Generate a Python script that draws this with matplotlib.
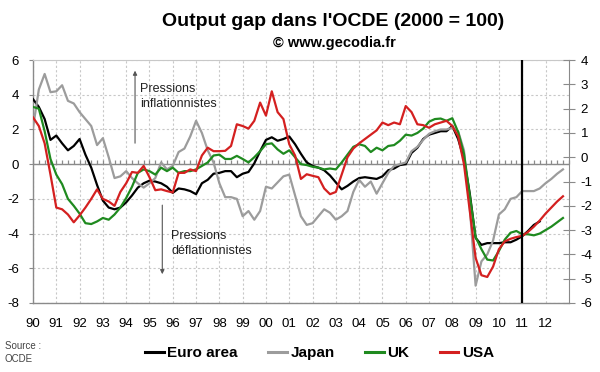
import numpy as np
import matplotlib
matplotlib.use("Agg")
import matplotlib.pyplot as plt
from matplotlib.lines import Line2D

plt.rcParams['font.family'] = ['Liberation Sans', 'DejaVu Sans']

# ---- data (quarterly, starting 1990 Q1) ----
start_year = 1990
euro = [3.75, 3.3, 2.6, 1.4,
        1.65, 1.2, 0.8, 1.05,
        1.45, 0.55, -0.2, -1.2,
        -2.1, -2.5, -2.6, -2.5,
        -2.2, -1.8, -1.35, -1.1,
        -0.95, -1.0, -1.1, -1.3,
        -1.65, -1.4, -1.45, -1.55,
        -1.73, -1.1, -0.9, -0.55,
        -0.5, -0.4, -0.4, -0.75,
        -0.55, -0.45, 0.05, 0.75,
        1.4, 1.55, 1.35, 1.45,
        1.6, 1.15, 0.6, 0.1,
        -0.1, -0.2, -0.35, -0.65,
        -1.05, -1.45, -1.25, -1.0,
        -0.8, -0.75, -0.8, -0.85,
        -0.7, -0.35, -0.25, -0.05,
        0.0, 0.65, 0.95, 1.45,
        1.7, 1.8, 1.9, 1.9,
        2.2, 1.45, 0.3, -1.7,
        -4.25, -4.65, -4.55, -4.55,
        -4.55, -4.5, -4.5, -4.35,
        -4.15, -3.85, -3.5, -3.3]
japan = [2.1, 4.3, 5.2, 4.15,
         4.2, 4.55, 3.65, 3.5,
         3.0, 2.6, 2.2, 1.1,
         1.5, 0.4, -0.8, -0.7,
         -0.4, -0.8, -1.1, -1.35,
         -1.1, -0.8, 0.1, -0.3,
         -0.1, 0.7, 0.9, 1.6,
         2.5, 1.8, 0.8, 0.1,
         -1.1, -1.9, -1.9, -2.0,
         -3.0, -2.7, -3.2, -2.7,
         -1.3, -1.4, -1.05, -0.7,
         -0.6, -1.8, -3.0, -3.5,
         -3.4, -3.0, -2.6, -2.8,
         -3.2, -3.0, -2.7, -1.6,
         -0.9, -1.3, -1.0, -1.7,
         -1.1, -0.5, -0.1, 0.0,
         0.1, 0.75, 1.0, 1.4,
         1.75, 1.9, 2.0, 2.0,
         2.1, 1.9, 0.8, -2.5,
         -7.0, -5.6, -5.2, -4.4,
         -2.9, -2.6, -2.0, -1.9,
         -1.55, -1.55, -1.55, -1.4,
         -1.1, -0.85, -0.55, -0.3]
uk = [3.3, 3.2, 1.9, 0.3,
      -0.6, -1.15, -2.0, -2.4,
      -2.85, -3.4, -3.45, -3.3,
      -3.1, -3.2, -2.9, -2.5,
      -1.95, -1.3, -0.5, -0.3,
      -0.4, -0.6, -0.2, -0.4,
      -0.2, -0.5, -0.4, -0.4,
      -0.3, -0.1, 0.1, 0.5,
      0.55, 0.3, 0.3, 0.48,
      0.3, 0.1, 0.4, 0.75,
      1.15, 1.2, 0.85, 0.6,
      0.8, 0.4, 0.0, -0.05,
      -0.15, -0.2, -0.3, -0.25,
      -0.3, 0.1, 0.55, 1.0,
      1.15, 1.05, 0.7, 0.95,
      0.8, 1.05, 1.1, 1.35,
      1.7, 1.65, 1.8, 2.05,
      2.45, 2.6, 2.63, 2.5,
      2.65, 1.85, 0.6, -1.8,
      -4.2, -4.9, -5.5, -5.55,
      -5.0, -4.35, -3.95, -3.85,
      -4.04, -4.04, -4.1, -4.0,
      -3.8, -3.6, -3.35, -3.1]
usa = [2.7, 2.2, 1.2, -0.6,
       -2.5, -2.6, -2.9, -3.35,
       -2.95, -2.5, -2.0, -1.45,
       -2.0, -2.15, -2.4, -1.6,
       -1.1, -0.45, -0.5, -0.1,
       -0.75, -1.5, -1.45, -1.55,
       -1.63, -0.5, -0.5, -0.3,
       -0.4, 0.5, 0.95, 0.75,
       0.75, 0.77, 1.05, 2.3,
       2.2, 2.05, 2.5, 3.55,
       2.8, 4.2, 3.0, 2.6,
       1.15, 0.5, -0.85, -0.58,
       -0.67, -0.75, -1.4, -1.73,
       -1.6, -0.6, 0.4, 0.9,
       1.2, 1.45, 1.7, 1.95,
       2.4, 2.25, 2.4, 2.3,
       3.35, 3.0, 2.3, 2.25,
       2.1, 2.3, 2.4, 2.5,
       2.2, 1.6, 0.0, -2.7,
       -5.4, -6.4, -6.5, -5.9,
       -4.9, -4.45, -4.3, -4.2,
       -4.13, -3.9, -3.6, -3.25,
       -2.85, -2.5, -2.15, -1.85]

series_names = ["Euro area", "Japan", "UK", "USA"]
series_values = [euro, japan, uk, usa]
series_colors = ["#000000", "#9c9c9c", "#1f8a1f", "#d42020"]

year_labels = ["90", "91", "92", "93", "94", "95", "96", "97", "98", "99", "00",
               "01", "02", "03", "04", "05", "06", "07", "08", "09", "10", "11", "12"]
left_ticks = [6, 4, 2, 0, -2, -4, -6, -8]
right_ticks = [4, 3, 2, 1, 0, -1, -2, -3, -4, -5, -6]
marker_year = 2011

title = "Output gap dans l'OCDE (2000 = 100)"
subtitle = "\u00a9 www.gecodia.fr"

# ---- figure ----
fig = plt.figure(figsize=(6, 3.72), dpi=100)
ax = fig.add_axes([0.055, 0.1855, 0.893, 0.653])

grid_c = "#c8c8c8"
axis_c = "#8a8a8a"

for name, vals, col in zip(series_names, series_values, series_colors):
    x = start_year + np.arange(len(vals)) * 0.25
    ax.plot(x, vals, color=col, lw=1.6, zorder=3, solid_joinstyle='round')

ax.set_xlim(1990, 2013)
ax.set_ylim(-8, 6)

years = np.arange(1990, 1990 + len(year_labels))
ax.set_xticks(years)
ax.set_xticklabels(year_labels, fontsize=9.5)
ax.set_yticks(left_ticks)
ax.set_yticklabels([str(t) for t in left_ticks], fontsize=9.5)
ax.tick_params(axis='x', length=0, pad=11)
ax.tick_params(axis='y', length=3, direction='out', color=axis_c, pad=7)

ax.grid(True, color=grid_c, linestyle=(0, (2, 2)), linewidth=0.8, zorder=0)
ax.set_axisbelow(True)

for s in ['left', 'bottom']:
    ax.spines[s].set_color(axis_c)
    ax.spines[s].set_linewidth(1.0)
ax.spines['top'].set_color("#c8c8c8")
ax.spines['right'].set_visible(False)

# zero line (horizontal axis crossing) with quarterly tick marks pointing up
ax.axhline(0, color=axis_c, lw=1.0, zorder=2)
quarters = np.arange(1990, 2013.01, 0.25)
ax.plot(quarters, np.zeros_like(quarters), ls='none', marker=2, ms=3,
        mec=axis_c, mew=0.9, zorder=2, clip_on=False)

# right axis
axr = ax.twinx()
axr.set_ylim(-6, 4)
axr.set_yticks(right_ticks)
axr.set_yticklabels([str(t) for t in right_ticks], fontsize=9.5)
axr.tick_params(axis='y', length=9, direction='inout', color=axis_c, pad=4)
for s in ['left', 'top', 'bottom']:
    axr.spines[s].set_visible(False)
axr.spines['right'].set_color(axis_c)

# vertical marker line
ax.axvline(marker_year, color="#000000", lw=1.6, zorder=4)

# annotations
arrow_kw = dict(arrowstyle='-|>', color='#555555', lw=0.8, mutation_scale=6)
ax.annotate("", xy=(1994.38, 5.55), xytext=(1994.38, 1.05), arrowprops=arrow_kw)
ax.text(1994.6, 3.9, "Pressions\ninflationnistes", fontsize=9, ha='left', va='center',
        linespacing=1.4, color='#222222')
ax.annotate("", xy=(1995.55, -6.5), xytext=(1995.55, -2.2), arrowprops=arrow_kw)
ax.text(1995.93, -4.58, "Pressions\nd\u00e9flationnistes", fontsize=9, ha='left', va='center',
        linespacing=1.4, color='#222222')

# titles
fig.text(0.555, 0.943, title, ha='center', va='center', fontsize=14, fontweight='bold')
fig.text(0.557, 0.884, subtitle, ha='center', va='center', fontsize=10.5, fontweight='bold')

# source
fig.text(0.008, 0.052, "Source :\nOCDE", ha='left', va='center', fontsize=7,
         color='#444444', linespacing=1.3)

# legend
handles = [Line2D([0], [0], color=c, lw=2.2) for c in series_colors]
fig.legend(handles, series_names, loc='center', bbox_to_anchor=(0.533, 0.05), ncol=4,
           frameon=False, handlelength=1.2, handletextpad=0.25, columnspacing=2.0,
           prop={'weight': 'bold', 'size': 11})

fig.savefig("out.png", dpi=100)
